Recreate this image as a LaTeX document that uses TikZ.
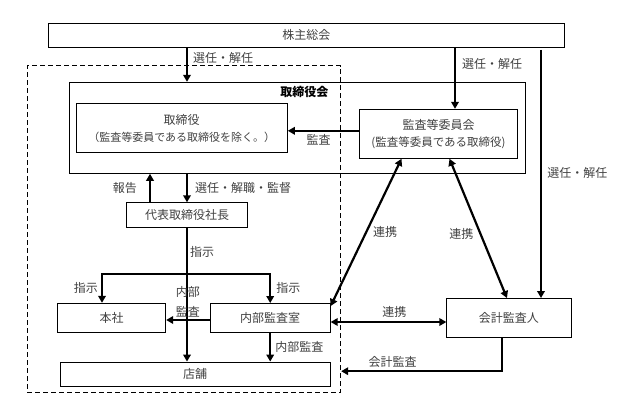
\documentclass[tikz,border=0pt]{standalone}
\usepackage{fontspec}
\setmainfont{Noto Sans CJK JP}
\usetikzlibrary{positioning,arrows.meta}

\begin{document}
\begin{tikzpicture}[
    x=1pt, y=-1pt,
    box/.style={
        draw, rectangle, line width=.9pt, inner sep=0pt, align=center,
        text=black!75, font=\fontsize{12pt}{17pt}\selectfont,
    },
    group_line/.style={
        draw, line width=.9pt, dash pattern=on 5pt off 3pt,
    },
    lbl/.style={
        text=black!75, font=\fontsize{12pt}{14pt}\selectfont, inner sep=2pt,
    },
    arrow/.style={
        line width=2.2pt, -{Triangle[length=7pt,width=7.5pt]},
    },
    both_arrow/.style={
        line width=2.2pt, {Triangle[length=7pt,width=7.5pt]}-{Triangle[length=7pt,width=7.5pt]},
    }
]
    \useasboundingbox (0,0) rectangle (623,407);

    \node[box,minimum width=516pt,minimum height=24pt] at (306.3,35.3) (gm) {株主総会};
    \node[group_line,minimum width=313.4pt,minimum height=326.8pt] at (184,229.1) (group) {};
    \node[box,minimum width=456pt,minimum height=91pt] at (297.3,127.8) (board) {};
    \node[lbl,text=black,font=\fontsize{12pt}{14pt}\selectfont\bfseries] at (304.4,92) (board_t) {取締役会};

    \node[box,minimum width=211.3pt,minimum height=49.4pt] at (181.7,128) (dir)
        {取締役\\{\fontsize{11pt}{17pt}\selectfont （監査等委員である取締役を除く。）}};
    \node[box,minimum width=157.6pt,minimum height=49pt] at (438.5,133.8) (acm)
        {監査等委員会\\{\fontsize{11.5pt}{17pt}\selectfont (監査等委員である取締役)}};
    \node[box,minimum width=120.6pt,minimum height=24.3pt] at (187,214.9) (ceo) {代表取締役社長};

    \node[box,minimum width=108.4pt,minimum height=29.4pt] at (111.5,318) (hq) {本社};
    \node[box,minimum width=120pt,minimum height=29pt,right=43.6pt of hq] (iad) {内部監査室};
    \node[box,minimum width=269.7pt,minimum height=24.3pt] at (195.2,374.2) (shop) {店舗};
    \node[box,minimum width=124.3pt,minimum height=39pt,right=115.7pt of iad] (aud) {会計監査人};

    \coordinate (sel_b) at (455,0);
    \coordinate (sel_c) at (541,0);
    \coordinate (rep) at (150,0);
    \coordinate (bar_l) at (102,273.7);

    % 株主総会から
    \draw [arrow](ceo |- gm.south) to node[lbl,pos=.31,right=3pt]{選任・解任} (ceo |- board.north);
    \draw [arrow](sel_b |- gm.south) to node[lbl,pos=.27,right=4pt]{選任・解任} (sel_b |- acm.north);
    \draw [arrow,line width=2.8pt,shorten <=2pt](sel_c |- gm.south) to node[lbl,midway,right=3pt]{選任・解任} (sel_c |- aud.north);

    \draw [arrow]([yshift=3pt]acm.west) to node[lbl,pos=.57,below=1pt]{監査} ([yshift=3pt]acm.west -| dir.east);
    \draw [arrow](rep |- ceo.north) to node[lbl,midway,left=10pt]{報告} (rep |- board.south);
    \draw [arrow](ceo |- board.south) to node[lbl,midway,right=5pt]{選任・解職・監督} (ceo.north);

    % 社長から下
    \draw [arrow](ceo.south) to node[lbl,pos=.18,right=0pt]{指示} (ceo |- shop.north);
    \draw [both_arrow](bar_l |- hq.north) -- node[lbl,left=1pt]{指示} (bar_l)
        -- (iad.north |- bar_l) -- node[lbl,right=3pt]{指示} (iad.north);
    \draw [arrow]([yshift=-2pt]iad.west) to node[lbl,midway,above=0pt,align=center]{内部\\[6pt]監査} ([yshift=-2pt]iad.west -| hq.east);
    \draw [arrow](iad.south) to node[lbl,midway,right=2pt]{内部監査} (iad |- shop.north);

    % 連携
    \draw [both_arrow]([yshift=-4pt]aud.west) to node[lbl,pos=.45,above=1pt]{連携} ([yshift=-4pt]aud.west -| iad.east);
    \draw [both_arrow]([xshift=-37pt]acm.south) to node[lbl,midway,right=4pt]{連携} ([yshift=-3pt]iad.north east);
    \draw [both_arrow]([xshift=11pt]acm.south) to node[lbl,pos=.54,left=4pt]{連携} ([xshift=-2pt]aud.north);

    \draw [arrow]([xshift=-7pt]aud.south) |- node[lbl,pos=.84,above=1pt]{会計監査} ([yshift=3pt]group.east |- shop);
\end{tikzpicture}
\end{document}
